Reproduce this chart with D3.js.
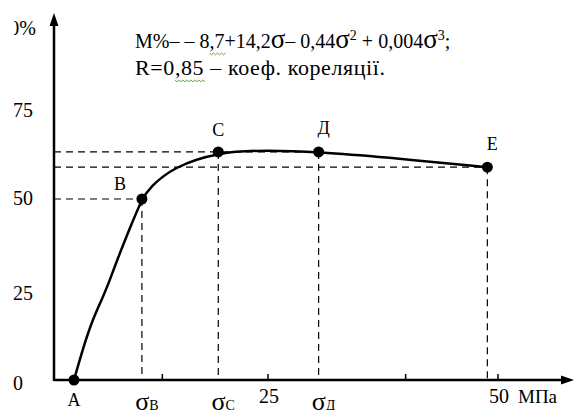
<!DOCTYPE html>
<html><head><meta charset="utf-8">
<script src="https://cdn.jsdelivr.net/npm/d3@7"></script>
<style>
body{margin:0;background:#fff;}
svg{display:block;}
</style></head>
<body><svg id="c" width="576" height="410"></svg>
<script>
// ---- data ----
const curveX = [2.25, 3.3, 4.4, 5.4, 6.2, 7.1, 8.6, 9.9, 10.8, 13.4, 18.5, 24.0, 29.8, 37.0, 48.8];
const curveY = [0, 9.1, 17.0, 22.3, 27.0, 33.1, 42.3, 50, 53.2, 58.8, 63.0, 63.5, 63.0, 61.6, 58.8];
const pointNames = ["A", "B", "C", "Д", "E"];
const pointX = [2.25, 9.9, 18.5, 29.8, 48.8];
const pointY = [0, 50, 63.0, 63.0, 58.8];
const sigmaSubs = ["в", "с", "д"]; // under B, C, Д
const xTickValues = [12.2, 24.1, 39.6, 50];
const xTickLabels = ["", "25", "", "50"];
const yTickValues = [0, 25, 50, 75, 100];
const yTickLabels = ["0", "25", "50", "75", "100%"];

const FONT = '"Liberation Serif", "Tinos", "Times New Roman", "DejaVu Serif", serif';
const svg = d3.select("#c").style("font-family", FONT);
const x = d3.scaleLinear().domain([0, 50]).range([54, 498]);
const y = d3.scaleLinear().domain([0, 100]).range([380, 18]);

svg.append("defs").append("clipPath").attr("id","lc")
  .append("rect").attr("x",14).attr("y",0).attr("width",60).attr("height",60);

// dashed guide lines
const dash = svg.append("g").attr("stroke","#000").attr("stroke-width",1.2)
  .attr("stroke-dasharray","7,5").attr("fill","none");
[1,3,4].forEach(i=>{
  dash.append("line").attr("x1",x(0)).attr("x2",x(pointX[i]))
    .attr("y1",y(pointY[i])).attr("y2",y(pointY[i]));
});
[1,2,3,4].forEach(i=>{
  dash.append("line").attr("x1",x(pointX[i])).attr("x2",x(pointX[i]))
    .attr("y1",y(pointY[i])).attr("y2",y(0));
});

// axes
const ax = svg.append("g").attr("stroke","#000").attr("stroke-width",2.5).attr("fill","none");
ax.append("line").attr("x1",x(0)).attr("x2",568).attr("y1",y(0)).attr("y2",y(0));
ax.append("line").attr("x1",x(0)).attr("x2",x(0)).attr("y1",y(0)+1).attr("y2",22);
svg.append("path").attr("d",`M${x(0)},13 L${x(0)-4.5},26 L${x(0)+4.5},26 Z`).attr("fill","#000");
svg.append("path").attr("d",`M574,${y(0)} L561,${y(0)-4.5} L561,${y(0)+4.5} Z`).attr("fill","#000");

// x ticks
const xt = svg.append("g");
xTickValues.forEach((v,i)=>{
  xt.append("line").attr("x1",x(v)).attr("x2",x(v)).attr("y1",y(0)-6).attr("y2",y(0))
    .attr("stroke","#000").attr("stroke-width",1.5);
  if (xTickLabels[i]) xt.append("text").attr("x",x(v)+1).attr("y",403)
    .attr("text-anchor","middle").attr("font-size",20).text(xTickLabels[i]);
});
svg.append("text").attr("x",518).attr("y",403).attr("font-size",19).text("МПа");

// y tick labels
const yOff = [3, 3, -1, 1.5, 10];
yTickValues.forEach((v,i)=>{
  const t = svg.append("text").attr("font-size",20).attr("dominant-baseline","central")
    .attr("y", y(v)+yOff[i]).text(yTickLabels[i]);
  if (i===4) t.attr("x",36).attr("text-anchor","end").attr("clip-path","url(#lc)");
  else t.attr("x",13);
});

// curve
const pts = curveX.map((d,i)=>[x(d), y(curveY[i])]);
svg.append("path").attr("d", d3.line().curve(d3.curveBasis)(pts))
  .attr("fill","none").attr("stroke","#000").attr("stroke-width",2.5);

// points
svg.selectAll("circle.p").data(pointX).join("circle")
  .attr("cx",(d)=>x(d)).attr("cy",(d,i)=>y(pointY[i])).attr("r",5.5).attr("fill","#000");

// point labels
const lblOff = [[0,26],[-22,-9],[0,-16],[5,-18],[5,-17]];
pointNames.forEach((n,i)=>{
  svg.append("text").attr("x",x(pointX[i])+lblOff[i][0]).attr("y",y(pointY[i])+lblOff[i][1])
    .attr("text-anchor","middle").attr("font-size",18).text(n);
});

// sigma labels
sigmaSubs.forEach((s,i)=>{
  const t = svg.append("text").attr("x",x(pointX[i+1])+5).attr("y",410)
    .attr("text-anchor","middle").attr("font-size",26);
  t.append("tspan").text("σ");
  t.append("tspan").attr("font-size",14).text(s.toUpperCase());
});

// equation
const eq = svg.append("text").attr("x",135).attr("y",48).attr("font-size",20);
eq.append("tspan").text("М%– – 8,7+14,2");
eq.append("tspan").attr("font-size",27).text("σ");
eq.append("tspan").text("– 0,44");
eq.append("tspan").attr("font-size",27).text("σ");
eq.append("tspan").attr("font-size",14).attr("dy",-8).text("2");
eq.append("tspan").attr("dy",8).text(" + 0,004");
eq.append("tspan").attr("font-size",27).text("σ");
eq.append("tspan").attr("font-size",14).attr("dy",-8).text("3");
eq.append("tspan").attr("dy",8).text(";");
const r2 = svg.append("text").attr("x",135).attr("y",75).attr("font-size",22)
  .attr("letter-spacing",0.6).text("R=0,85 – коеф. кореляції.");

// spell-check squiggles
function squiggle(textSel, i0, i1, yy){
  const n = textSel.node();
  const a = n.getExtentOfChar(i0), b = n.getExtentOfChar(i1);
  const xs = a.x, xe = b.x + b.width;
  let d = `M${xs},${yy}`;
  for (let xx = xs, k = 0; xx < xe; xx += 2, k++) d += ` L${xx+2},${yy + (k%2 ? 0 : 1.8)}`;
  svg.append("path").attr("d", d).attr("fill","none").attr("stroke","#5a9a3a").attr("stroke-width",0.9);
}
squiggle(eq, 7, 8, 53);
squiggle(r2, 3, 5, 80);
</script></body></html>
